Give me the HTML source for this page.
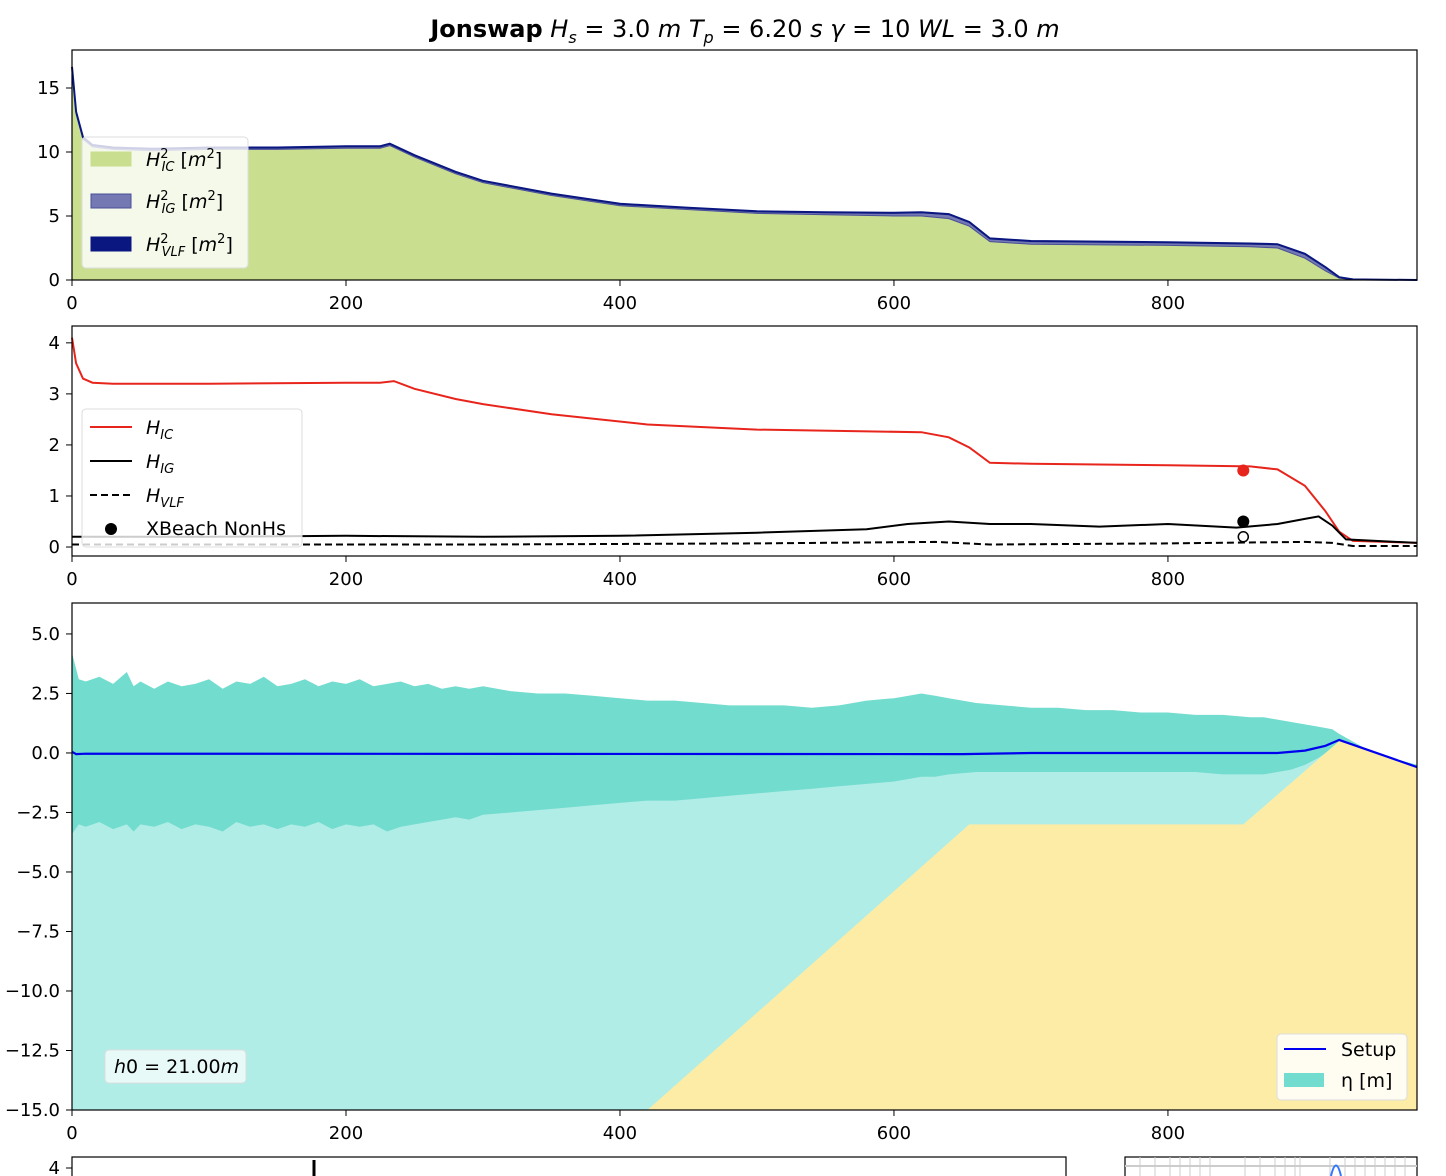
<!DOCTYPE html>
<html><head><meta charset="utf-8"><style>
body{margin:0;background:#fff}
svg{display:block;font-family:"DejaVu Sans","Liberation Sans",sans-serif}
</style></head><body>
<svg id="c" width="1446" height="1176" viewBox="0 0 1446 1176">
<text x="745" y="37" text-anchor="middle" font-size="24"><tspan font-weight="bold">Jonswap</tspan> <tspan font-style="italic">H</tspan><tspan font-style="italic" font-size="16" dy="6">s</tspan><tspan dy="-6"> = 3.0 </tspan><tspan font-style="italic">m T</tspan><tspan font-style="italic" font-size="16" dy="6">p</tspan><tspan dy="-6"> = 6.20 </tspan><tspan font-style="italic">s γ</tspan> =  10 <tspan font-style="italic">WL</tspan> = 3.0 <tspan font-style="italic">m</tspan></text>
<g id="g"></g>
</svg>
<script>
// ---- data ----
const xs1=[0,3,8,15,30,60,100,150,200,225,232,250,280,300,350,400,450,500,550,600,620,640,655,670,700,800,860,880,900,915,925,935,982];
const hic2=[16.5,13,11,10.4,10.2,10.1,10.2,10.2,10.3,10.3,10.5,9.6,8.3,7.6,6.6,5.8,5.5,5.2,5.1,5.0,5.0,4.8,4.2,3.0,2.8,2.7,2.6,2.5,1.7,0.7,0.15,0.02,0];
const hig2=[0.1,0.1,0.1,0.1,0.1,0.1,0.1,0.1,0.1,0.1,0.1,0.1,0.1,0.1,0.1,0.1,0.1,0.12,0.15,0.2,0.25,0.3,0.28,0.2,0.2,0.2,0.2,0.25,0.3,0.25,0.05,0.02,0];
const vlf2=[0.05,0.05,0.05,0.05,0.05,0.05,0.05,0.05,0.05,0.05,0.05,0.05,0.05,0.05,0.05,0.05,0.05,0.05,0.05,0.05,0.05,0.05,0.05,0.05,0.05,0.05,0.05,0.05,0.05,0.05,0.02,0.01,0];
const xs2=[0,3,8,15,30,100,200,225,235,250,280,300,350,420,500,620,640,655,670,700,800,860,880,900,915,925,935,982];
const hic=[4.1,3.6,3.3,3.22,3.2,3.2,3.22,3.22,3.25,3.1,2.9,2.8,2.6,2.4,2.3,2.25,2.15,1.95,1.65,1.63,1.6,1.58,1.52,1.2,0.7,0.3,0.12,0.08];
const xsig=[0,100,200,300,400,500,580,610,640,670,700,750,800,850,880,900,910,920,930,982];
const hig=[0.2,0.2,0.22,0.2,0.22,0.28,0.35,0.45,0.5,0.45,0.45,0.4,0.45,0.38,0.45,0.55,0.6,0.42,0.15,0.08];
const xsvlf=[0,300,500,630,670,800,900,920,935,982];
const hvlf=[0.05,0.05,0.07,0.1,0.05,0.07,0.1,0.08,0.02,0.02];
const xbX=[855];const xbIC=[1.5];const xbIG=[0.5];const xbVLF=[0.2];
const xsE=[0,5,10,20,30,40,45,50,60,70,80,90,100,110,120,130,140,150,160,170,180,190,200,210,220,230,240,250,260,270,280,290,300,320,340,360,380,400,420,440,460,480,500,520,540,560,580,600,620,630,640,660,680,700,720,740,760,780,800,820,840,860,870,880,890,900,910,920,925,950,982];
const etaUp=[4.2,3.1,3.0,3.2,2.9,3.4,2.8,3.0,2.7,3.0,2.8,2.9,3.1,2.7,3.0,2.9,3.2,2.8,2.9,3.1,2.8,3.0,2.9,3.1,2.8,2.9,3.0,2.8,2.9,2.7,2.8,2.7,2.8,2.6,2.5,2.5,2.4,2.3,2.2,2.2,2.1,2.0,2.0,2.0,1.9,2.0,2.2,2.3,2.5,2.4,2.3,2.1,2.0,1.9,1.9,1.8,1.8,1.7,1.7,1.6,1.6,1.5,1.5,1.4,1.3,1.2,1.1,1.0,0.8,0.0,-0.5];
const etaLo=[-3.4,-3.0,-3.1,-2.9,-3.2,-3.0,-3.3,-3.0,-3.1,-2.9,-3.2,-3.0,-3.1,-3.3,-2.9,-3.1,-3.0,-3.2,-3.0,-3.1,-2.9,-3.2,-3.0,-3.1,-3.0,-3.3,-3.1,-3.0,-2.9,-2.8,-2.7,-2.8,-2.6,-2.5,-2.4,-2.3,-2.2,-2.1,-2.0,-2.0,-1.9,-1.8,-1.7,-1.6,-1.5,-1.4,-1.3,-1.2,-1.0,-1.0,-0.9,-0.8,-0.8,-0.8,-0.8,-0.8,-0.8,-0.8,-0.8,-0.8,-0.9,-0.9,-0.9,-0.8,-0.7,-0.5,-0.2,0.2,0.5,-0.1,-0.7];
const bedX=[0,420,655,855,925,982];
const bedZ=[-15,-15,-3,-3,0.5,-0.6];
const setX=[0,3,10,650,700,880,900,915,925,982];
const setZ=[0.05,-0.05,-0.03,-0.05,0.0,0.0,0.1,0.3,0.55,-0.6];
const xTicks=[0,200,400,600,800];
const y1Ticks=[0,5,10,15];const y2Ticks=[0,1,2,3,4];
const y3Ticks=[5,2.5,0,-2.5,-5,-7.5,-10,-12.5,-15];
// ---- helpers ----
const g=document.getElementById('g');const NS='http://www.w3.org/2000/svg';
function mk(t,a,p){const e=document.createElementNS(NS,t);for(const k in a)e.setAttribute(k,a[k]);(p||g).appendChild(e);return e;}
const X0=72,X1=1417,XMAX=981.8;
const sx=v=>X0+v/XMAX*(X1-X0);
function mkY(top,bot,ymin,ymax){return v=>bot-(v-ymin)/(ymax-ymin)*(bot-top);}
function line(xa,ya,sy){return xa.map((x,i)=>(i?'L':'M')+sx(x).toFixed(1)+','+sy(ya[i]).toFixed(1)).join('');}
function area(xa,lo,hi,sy){let d=xa.map((x,i)=>(i?'L':'M')+sx(x).toFixed(1)+','+sy(hi[i]).toFixed(1)).join('');for(let i=xa.length-1;i>=0;i--)d+='L'+sx(xa[i]).toFixed(1)+','+sy(lo[i]).toFixed(1);return d+'Z';}
function axes(top,bot,sy,yt,fmt,name){
  mk('rect',{x:X0,y:top,width:X1-X0,height:bot-top,fill:'none',stroke:'#000','stroke-width':1.2,});
  xTicks.forEach(t=>{const x=sx(t);mk('line',{x1:x,x2:x,y1:bot,y2:bot+6,stroke:'#000'});const e=mk('text',{x:x,y:bot+29,'text-anchor':'middle','font-size':18});e.textContent=t;});
  yt.forEach(t=>{const y=sy(t);mk('line',{x1:X0-6,x2:X0,y1:y,y2:y,stroke:'#000'});const e=mk('text',{x:X0-12,y:y+6,'text-anchor':'end','font-size':18});e.textContent=fmt(t);});
}
// ---- panel 1 ----
{const sy=mkY(50,280,0,17.97);const z=xs1.map(()=>0);
 const a1=hic2, a2=hic2.map((v,i)=>v+hig2[i]), a3=a2.map((v,i)=>v+vlf2[i]);
 mk('path',{d:area(xs1,z,a1,sy),fill:'#c9df8f',});
 mk('path',{d:area(xs1,a1,a2,sy),fill:'#7479b3',stroke:'#4a4f99','stroke-width':1,});
 mk('path',{d:area(xs1,a2,a3,sy),fill:'#0a1780',});
 mk('path',{d:line(xs1,a3,sy),fill:'none',stroke:'#0a1780','stroke-width':2,});
 axes(50,280,sy,y1Ticks,t=>t,'panel1');
 const L=mk('g',{});
 mk('rect',{x:82,y:137,width:166,height:131,rx:4,fill:'#fff','fill-opacity':0.8,stroke:'#ddd'},L);
 [['#c9df8f','IC',160],['#7479b3','IG',202],['#0a1780','VLF',245]].forEach(([c,s,y])=>{
  mk('rect',{x:91,y:y-8,width:40,height:14,fill:c,stroke:c==='#7479b3'?'#4a4f99':c},L);
  const t=mk('text',{x:146,y:y+6,'font-size':19},L);t.innerHTML='<tspan font-style="italic">H</tspan><tspan font-size="13" dy="-8">2</tspan><tspan font-size="13" font-style="italic" dx="-7" dy="13">'+s+'</tspan><tspan dy="-5"> [</tspan><tspan font-style="italic">m</tspan><tspan font-size="13" dy="-8">2</tspan><tspan dy="8">]</tspan>';
 });
}
// ---- panel 2 ----
{const sy=mkY(326,556,-0.176,4.33);
 mk('path',{d:line(xs2,hic,sy),fill:'none',stroke:'#e8251c','stroke-width':2,});
 mk('path',{d:line(xsig,hig,sy),fill:'none',stroke:'#000','stroke-width':2,});
 mk('path',{d:line(xsvlf,hvlf,sy),fill:'none',stroke:'#000','stroke-width':2,'stroke-dasharray':'7,4',});
 xbX.forEach((x,i)=>{
  mk('circle',{cx:sx(x),cy:sy(xbIC[i]),r:6,fill:'#e8251c',});
  mk('circle',{cx:sx(x),cy:sy(xbIG[i]),r:6,fill:'#000',});
  mk('circle',{cx:sx(x),cy:sy(xbVLF[i]),r:5,fill:'#fff',stroke:'#000','stroke-width':1.5,});
 });
 axes(326,556,sy,y2Ticks,t=>t,'panel2');
 const L=mk('g',{});
 mk('rect',{x:82,y:409,width:220,height:138,rx:4,fill:'#fff','fill-opacity':0.8,stroke:'#ddd'},L);
 mk('line',{x1:90,x2:132,y1:427,y2:427,stroke:'#e8251c','stroke-width':2},L);
 mk('line',{x1:90,x2:132,y1:461,y2:461,stroke:'#000','stroke-width':2},L);
 mk('line',{x1:90,x2:132,y1:495,y2:495,stroke:'#000','stroke-width':2,'stroke-dasharray':'7,4'},L);
 mk('circle',{cx:111,cy:529,r:6,fill:'#000'},L);
 [['IC',434],['IG',468],['VLF',502]].forEach(([s,y])=>{const t=mk('text',{x:146,y:y,'font-size':19,'font-style':'italic'},L);t.innerHTML='H<tspan font-size="13" dy="5">'+s+'</tspan>';});
 const t=mk('text',{x:146,y:535,'font-size':19},L);t.textContent='XBeach NonHs';
}
// ---- panel 3 ----
{const sy=mkY(603,1110,-15,6.3);
 mk('rect',{x:X0,y:sy(0),width:sx(925)-X0,height:1110-sy(0),fill:'#b0ede6',});
 mk('path',{d:area(xsE,etaLo,etaUp,sy),fill:'#72dccf',});
 mk('path',{d:line(bedX,bedZ,sy)+'L'+sx(XMAX)+','+1110+'L'+X0+',1110Z',fill:'#fdeca6',});
 mk('path',{d:line(setX,setZ,sy),fill:'none',stroke:'#0000ee','stroke-width':2.2,});
 axes(603,1110,sy,y3Ticks,t=>(t<0?'\u2212':'')+Math.abs(t).toFixed(1),'panel3');
 const L=mk('g',{});
 mk('rect',{x:1277,y:1034,width:130,height:66,rx:4,fill:'#fff','fill-opacity':0.85,stroke:'#ddd'},L);
 mk('line',{x1:1284,x2:1326,y1:1049,y2:1049,stroke:'#0000ee','stroke-width':2},L);
 mk('rect',{x:1284,y:1073,width:40,height:14,fill:'#72dccf'},L);
 let t=mk('text',{x:1341,y:1056,'font-size':19},L);t.textContent='Setup';
 t=mk('text',{x:1341,y:1087,'font-size':19},L);t.textContent='η [m]';
 const H=mk('g',{});
 mk('rect',{x:105,y:1050,width:141,height:33,rx:4,fill:'#fff','fill-opacity':0.7,stroke:'#ddd'},H);
 t=mk('text',{x:114,y:1073,'font-size':19},H);t.innerHTML='<tspan font-style="italic">h</tspan>0 = 21.00<tspan font-style="italic">m</tspan>';
}
// ---- panel 4 (partial) ----
mk('rect',{x:72,y:1157,width:994,height:40,fill:'none',stroke:'#000','stroke-width':1.2,});
mk('line',{x1:66,x2:72,y1:1168,y2:1168,stroke:'#000'});
{const t=mk('text',{x:60,y:1174,'text-anchor':'end','font-size':18});t.textContent='4';}
mk('line',{x1:314,x2:314,y1:1160,y2:1176,stroke:'#000','stroke-width':3,});
mk('rect',{x:1125,y:1157,width:292,height:40,fill:'none',stroke:'#000','stroke-width':1.2,});
[1140,1155,1170,1180,1190,1200,1210,1245,1260,1275,1285,1295,1300,1330,1345,1355,1365,1375,1385,1395,1405].forEach(x=>mk('line',{x1:x,x2:x,y1:1157,y2:1176,stroke:'#ccc'}));
mk('line',{x1:1125,x2:1417,y1:1166,y2:1166,stroke:'#ccc','stroke-width':2});
mk('path',{d:'M1331,1176 Q1336,1155 1341,1176',fill:'none',stroke:'#3377ff','stroke-width':2,});
</script>
</body></html>
